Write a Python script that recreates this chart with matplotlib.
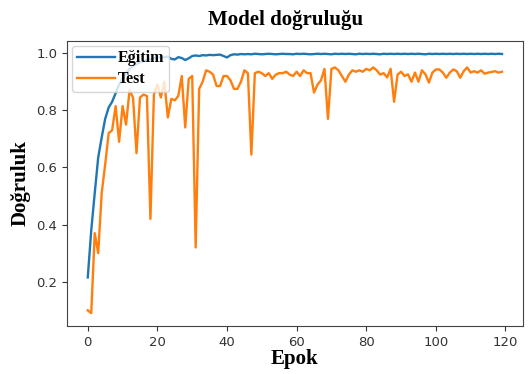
import matplotlib
matplotlib.use("Agg")
import matplotlib.pyplot as plt
import numpy as np

epochs = list(range(120))

egitim = [0.215, 0.38, 0.51, 0.635, 0.705, 0.77, 0.81, 0.83, 0.86, 0.89,
          0.91, 0.93, 0.945, 0.955, 0.962, 0.968, 0.972, 0.976, 0.979, 0.982,
          0.984, 0.986, 0.985, 0.988, 0.980, 0.978, 0.986, 0.983, 0.976, 0.982,
          0.990, 0.992, 0.990, 0.993, 0.992, 0.994, 0.993, 0.994, 0.995, 0.990,
          0.985, 0.993, 0.996, 0.995, 0.997, 0.996, 0.997, 0.996, 0.998, 0.997,
          0.996, 0.997, 0.998, 0.997, 0.996, 0.997, 0.998, 0.997, 0.997, 0.996,
          0.998, 0.997, 0.998, 0.997, 0.996, 0.997, 0.998, 0.997, 0.998, 0.997,
          0.996, 0.998, 0.997, 0.998, 0.997, 0.998, 0.997, 0.996, 0.998, 0.997,
          0.998, 0.997, 0.998, 0.997, 0.996, 0.998, 0.997, 0.998, 0.997, 0.998,
          0.997, 0.998, 0.997, 0.998, 0.997, 0.998, 0.997, 0.996, 0.998, 0.997,
          0.998, 0.997, 0.998, 0.997, 0.998, 0.997, 0.998, 0.997, 0.998, 0.997,
          0.998, 0.997, 0.998, 0.997, 0.998, 0.997, 0.998, 0.997, 0.998, 0.997]

test = [0.10, 0.09, 0.37, 0.30, 0.51, 0.61, 0.72, 0.73, 0.815, 0.69,
        0.815, 0.75, 0.87, 0.845, 0.65, 0.845, 0.855, 0.85, 0.42, 0.855,
        0.89, 0.845, 0.90, 0.775, 0.84, 0.835, 0.85, 0.92, 0.74, 0.91,
        0.92, 0.32, 0.875, 0.90, 0.94, 0.935, 0.925, 0.885, 0.885, 0.92,
        0.92, 0.905, 0.875, 0.875, 0.90, 0.94, 0.93, 0.645, 0.93, 0.935,
        0.93, 0.92, 0.93, 0.91, 0.925, 0.93, 0.93, 0.935, 0.925, 0.92,
        0.935, 0.92, 0.94, 0.93, 0.93, 0.862, 0.89, 0.905, 0.945, 0.77,
        0.945, 0.95, 0.94, 0.92, 0.90, 0.925, 0.94, 0.935, 0.94, 0.935,
        0.945, 0.94, 0.95, 0.94, 0.925, 0.93, 0.915, 0.945, 0.83, 0.925,
        0.935, 0.92, 0.926, 0.90, 0.932, 0.90, 0.94, 0.926, 0.897, 0.932,
        0.943, 0.943, 0.932, 0.914, 0.932, 0.943, 0.937, 0.914, 0.937, 0.95,
        0.932, 0.937, 0.932, 0.94, 0.928, 0.932, 0.934, 0.937, 0.932, 0.935]

labels = ["Eğitim", "Test"]
title = "Model doğruluğu"
xlabel = "Epok"
ylabel = "Doğruluk"

serif = ["Liberation Serif", "DejaVu Serif"]

fig = plt.figure(figsize=(5.28, 3.74), dpi=100)
ax = fig.add_axes([0.127, 0.128, 0.863, 0.763])
ax.plot(epochs, egitim, color="#1f77b4", lw=1.7, label=labels[0])
ax.plot(epochs, test, color="#ff7f0e", lw=1.7, label=labels[1])

ax.set_title(title, family=serif, fontweight="bold", fontsize=15, pad=11, x=0.48)
ax.set_xlabel(xlabel, family=serif, fontweight="bold", fontsize=15, labelpad=0)
ax.set_ylabel(ylabel, family=serif, fontweight="bold", fontsize=15, labelpad=4)
ax.set_xticks([0, 20, 40, 60, 80, 100, 120])
ax.set_yticks([0.2, 0.4, 0.6, 0.8, 1.0])
ax.tick_params(labelsize=9.5, colors="#333333")
for s in ax.spines.values():
    s.set_color("#444444")

leg = ax.legend(loc="upper left", prop={"family": serif, "weight": "bold", "size": 11.5},
                handlelength=2.4, borderpad=0.3, labelspacing=0.3, handletextpad=0.2,
                borderaxespad=0.3)

fig.savefig("out.png", dpi=100)
